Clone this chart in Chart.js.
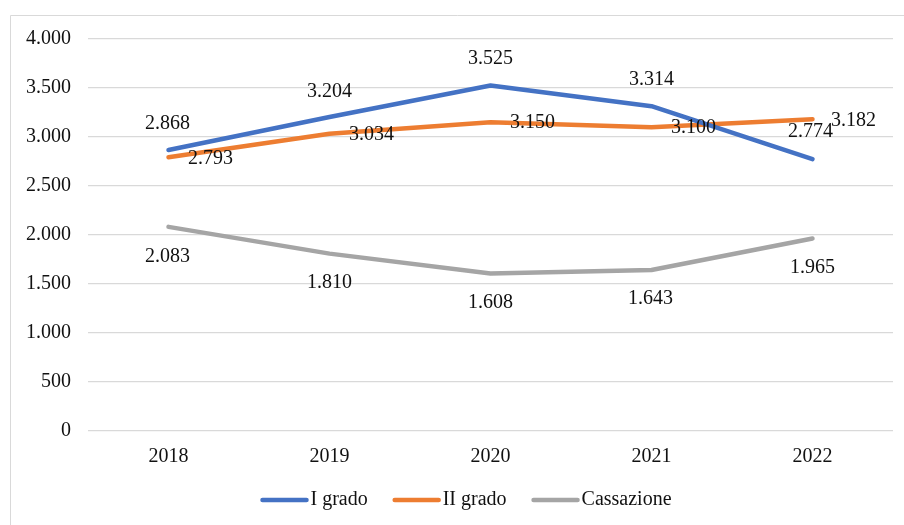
<!DOCTYPE html>
<html>
<head>
<meta charset="utf-8">
<script src="https://cdn.jsdelivr.net/npm/chart.js@4.4.0/dist/chart.umd.min.js"></script>
<style>
  html, body { margin: 0; padding: 0; background: #fff; }
  #wrap { width: 904px; height: 525px; position: relative; }
</style>
</head>
<body>
<div id="wrap"><canvas id="chart" width="904" height="525"></canvas></div>
<script>
// --- data ---
const years = ['2018', '2019', '2020', '2021', '2022'];
const primoGrado = [2868, 3204, 3525, 3314, 2774];
const secondoGrado = [2793, 3034, 3150, 3100, 3182];
const cassazione = [2083, 1810, 1608, 1643, 1965];
const yTicks = [0, 500, 1000, 1500, 2000, 2500, 3000, 3500, 4000];

// label placement (px offsets from each point), like the Excel labels
const labelOffsets = [
  [[-1, -26], [0, -25], [0, -27], [0, -26], [-2, -27]],
  [[42, 1], [42, 1], [42, 0], [42, 1], [41, 2]],
  [[-1, 30], [0, 29], [0, 29], [-1, 29], [0, 29]]
];

const FONT = '"Liberation Serif", "Times New Roman", serif';

// 4.000 style thousands separator
function fmt(v) {
  return String(v).replace(/\B(?=(\d{3})+(?!\d))/g, '.');
}

// frame around the chart (goes off the right/bottom edge)
const framePlugin = {
  id: 'frame',
  beforeDraw(chart) {
    const ctx = chart.ctx;
    ctx.save();
    ctx.strokeStyle = '#d9d9d9';
    ctx.lineWidth = 1;
    ctx.beginPath();
    ctx.moveTo(10.5, 530);
    ctx.lineTo(10.5, 15.5);
    ctx.lineTo(910, 15.5);
    ctx.stroke();
    ctx.restore();
  }
};

// data labels
const labelPlugin = {
  id: 'valueLabels',
  afterDatasetsDraw(chart) {
    const ctx = chart.ctx;
    ctx.save();
    ctx.font = '20px ' + FONT;
    ctx.fillStyle = '#111';
    ctx.textAlign = 'center';
    ctx.textBaseline = 'middle';
    chart.data.datasets.forEach((ds, di) => {
      const meta = chart.getDatasetMeta(di);
      meta.data.forEach((pt, i) => {
        const off = labelOffsets[di][i];
        ctx.fillText(fmt(ds.data[i]), pt.x + off[0], pt.y + off[1]);
      });
    });
    ctx.restore();
  }
};

// legend drawn by hand: short line right next to the text
const legendPlugin = {
  id: 'lineLegend',
  afterDraw(chart) {
    const ctx = chart.ctx;
    const lineW = 48, gap = 2, spacing = 25;
    ctx.save();
    ctx.font = '20px ' + FONT;
    const items = chart.data.datasets.map(ds => ({
      label: ds.label, color: ds.borderColor, w: ctx.measureText(ds.label).width
    }));
    const total = items.reduce((a, it) => a + lineW + gap + it.w, 0) + spacing * (items.length - 1);
    let x = 466 - total / 2;
    const y = 500;
    items.forEach(it => {
      ctx.strokeStyle = it.color;
      ctx.lineWidth = 4.5;
      ctx.lineCap = 'round';
      ctx.beginPath();
      ctx.moveTo(x + 2, y);
      ctx.lineTo(x + lineW - 2, y);
      ctx.stroke();
      ctx.fillStyle = '#111';
      ctx.textAlign = 'left';
      ctx.textBaseline = 'middle';
      ctx.fillText(it.label, x + lineW + gap, y);
      x += lineW + gap + it.w + spacing;
    });
    ctx.restore();
  }
};

function lineSet(label, data, color) {
  return {
    label: label,
    data: data,
    borderColor: color,
    backgroundColor: color,
    borderWidth: 4.5,
    borderCapStyle: 'round',
    borderJoinStyle: 'round',
    pointRadius: 0,
    pointHoverRadius: 0,
    tension: 0,
    fill: false
  };
}

new Chart(document.getElementById('chart').getContext('2d'), {
  type: 'line',
  data: {
    labels: years,
    datasets: [
      lineSet('I grado', primoGrado, '#4472C4'),
      lineSet('II grado', secondoGrado, '#ED7D31'),
      lineSet('Cassazione', cassazione, '#A5A5A5')
    ]
  },
  options: {
    responsive: false,
    animation: false,
    layout: { padding: { left: 10, right: 11, top: 39, bottom: 54 } },
    plugins: {
      legend: { display: false },
      tooltip: { enabled: false }
    },
    scales: {
      x: {
        offset: true,
        grid: { display: false, drawTicks: false },
        border: { display: false },
        ticks: { color: '#111', font: { family: FONT, size: 20 }, padding: 14 },
        afterFit(scale) { scale.height = 40; }
      },
      y: {
        min: 0,
        max: 4000,
        afterBuildTicks(scale) { scale.ticks = yTicks.map(v => ({ value: v })); },
        grid: { color: '#d9d9d9', lineWidth: 1.3, drawTicks: false },
        border: { display: false },
        ticks: {
          color: '#111',
          font: { family: FONT, size: 20 },
          padding: 17,
          callback: v => fmt(v)
        },
        afterFit(scale) { scale.width = 78; }
      }
    }
  },
  plugins: [framePlugin, labelPlugin, legendPlugin]
});
</script>
</body>
</html>
